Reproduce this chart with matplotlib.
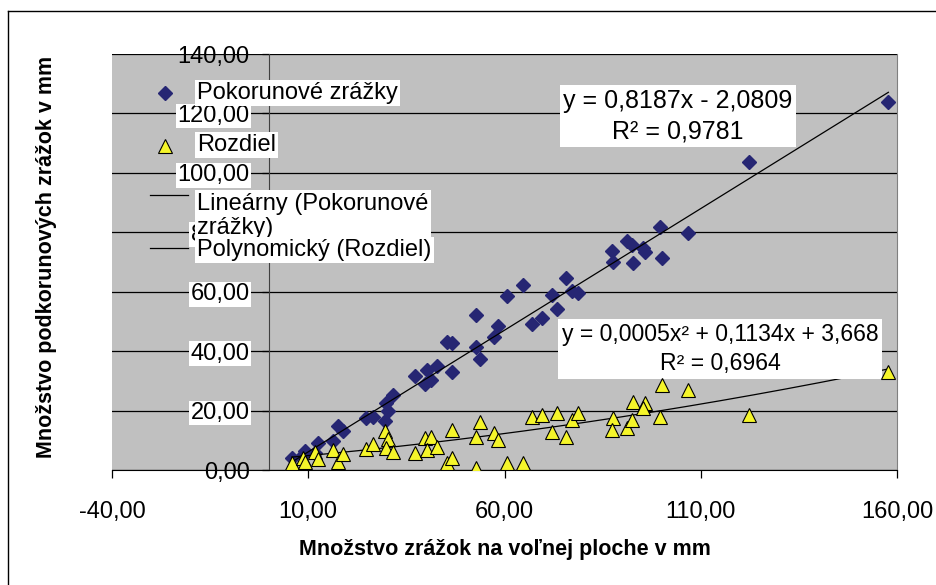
import matplotlib
matplotlib.use("Agg")
import matplotlib.pyplot as plt
import numpy as np
from matplotlib.lines import Line2D
from matplotlib.ticker import FuncFormatter

plt.rcParams['font.family'] = ['Liberation Sans', 'DejaVu Sans']

# zrážky na voľnej ploche (x), pokorunové zrážky a rozdiel (mm)
volna_plocha = [5.8, 8.7, 9.2, 11.7, 12.6, 16.2, 17.7, 18.8, 24.7, 26.6,
                29.6, 30.4, 29.8, 31.5, 37.2, 39.7, 41.4, 40.2, 42.7, 46.5,
                45.3, 46.5, 52.7, 52.7, 53.8, 57.2, 58.4, 60.6, 64.6, 67.1,
                69.5, 73.3, 72.0, 75.7, 77.1, 78.8, 87.7, 87.3, 91.1, 92.4,
                92.8, 95.8, 95.4, 99.6, 100.0, 106.8, 122.3, 157.8]
pokorunove = [3.9, 5.0, 6.4, 5.6, 9.0, 9.6, 14.8, 13.2, 17.6, 17.7,
              16.4, 20.0, 22.4, 25.1, 31.5, 29.0, 30.2, 33.6, 34.9, 32.9,
              43.1, 42.6, 52.1, 41.5, 37.4, 44.9, 48.3, 58.4, 62.4, 49.2,
              51.0, 54.2, 59.0, 64.5, 60.3, 59.7, 70.0, 73.6, 77.0, 75.6,
              69.5, 73.2, 74.6, 81.8, 71.4, 79.8, 103.8, 124.0]
rozdiel = [2.2, 3.9, 2.8, 6.2, 3.6, 6.7, 2.8, 5.5, 7.0, 8.9,
           13.2, 10.4, 7.3, 6.0, 5.6, 10.7, 11.2, 6.7, 7.8, 13.5,
           2.2, 3.9, 0.6, 11.2, 16.3, 12.3, 10.1, 2.2, 2.2, 17.9,
           18.5, 19.1, 12.9, 11.2, 16.8, 19.1, 17.4, 13.5, 14.0, 16.8,
           23.0, 22.4, 20.8, 17.9, 28.6, 26.9, 18.5, 33.1]

# trendy z grafu
lin_coef = [0.8187, -2.0809]
lin_r2 = 0.9781
poly_coef = [0.0005, 0.1134, 3.668]
poly_r2 = 0.6964

x_ticks = [-40, 10, 60, 110, 160]
y_ticks = [0, 20, 40, 60, 80, 100, 120, 140]

W, H = 936, 585
fig = plt.figure(figsize=(W / 100, H / 100), dpi=100)
ax = fig.add_axes([112 / W, 1 - 470 / H, 785 / W, 416 / H])
ax.set_facecolor('#C0C0C0')
ax.set_xlim(-40, 160)
ax.set_ylim(0, 140)

fmt = FuncFormatter(lambda v, p: f"{v:.2f}".replace('.', ','))
ax.set_xticks(x_ticks)
ax.set_yticks(y_ticks)
ax.xaxis.set_major_formatter(fmt)
ax.yaxis.set_major_formatter(fmt)
ax.yaxis.grid(True, color='black', lw=0.9)

ax.spines['left'].set_position(('data', 0))
ax.spines['left'].set_color('#404040')
ax.spines['top'].set_visible(False)
ax.spines['right'].set_color('#808080')
ax.spines['bottom'].set_color('black')
ax.tick_params(axis='x', direction='out', length=6, width=0.9, labelsize=17, pad=16)
ax.tick_params(axis='y', direction='out', length=5, width=0.9, labelsize=17, pad=9)
for lab, v in zip(ax.get_yticklabels(), y_ticks):
    if v not in (0, 140):
        lab.set_bbox(dict(facecolor='white', edgecolor='none', pad=1))

# body
ax.plot(volna_plocha, pokorunove, ls='none', marker='D', ms=7,
        color='#262673', mec='#262673', zorder=3)
ax.plot(volna_plocha, rozdiel, ls='none', marker='^', ms=10.5,
        color='#F5F52A', mec='black', mew=0.8, zorder=7)

# trendy
xs = np.linspace(min(volna_plocha), max(volna_plocha), 200)
ax.plot(xs, np.polyval(lin_coef, xs), color='black', lw=0.9, zorder=4)
ax.plot(xs, np.polyval(poly_coef, xs), color='black', lw=0.9, zorder=4)

box = dict(facecolor='white', edgecolor='none', boxstyle='square,pad=0.15')
ax.text(0.721, 0.851,
        f"y = {lin_coef[0]:.4f}x - {abs(lin_coef[1]):.4f}\nR² = {lin_r2:.4f}".replace('.', ','),
        transform=ax.transAxes, ha='center', va='center', multialignment='center',
        fontsize=18, linespacing=1.35, bbox=box, zorder=6)
ax.text(0.7745, 0.291,
        f"y = {poly_coef[0]:.4f}x² + {poly_coef[1]:.4f}x + {poly_coef[2]:.3f}\nR² = {poly_r2:.4f}".replace('.', ','),
        transform=ax.transAxes, ha='center', va='center', multialignment='center',
        fontsize=16.6, linespacing=1.35, bbox=box, zorder=6)

# legenda (v štýle Excelu)
lbox = dict(facecolor='white', edgecolor='none', boxstyle='square,pad=0.1')
ax.plot([0.0675], [0.906], transform=ax.transAxes, marker='D', ms=7,
        color='#262673', clip_on=False, zorder=7)
ax.text(0.1083, 0.906, "Pokorunové zrážky", transform=ax.transAxes,
        ha='left', va='center', fontsize=17, bbox=lbox, zorder=7)
ax.plot([0.0675], [0.779], transform=ax.transAxes, marker='^', ms=10.5,
        color='#F5F52A', mec='black', mew=0.8, clip_on=False, zorder=7)
ax.text(0.1083, 0.781, "Rozdiel", transform=ax.transAxes,
        ha='left', va='center', fontsize=17, bbox=lbox, zorder=7)
ax.plot([0.0484, 0.0968], [0.661, 0.661], transform=ax.transAxes,
        color='black', lw=0.9, zorder=7)
ax.text(0.1083, 0.667, "Lineárny (Pokorunové\nzrážky)", transform=ax.transAxes,
        ha='left', va='top', fontsize=17, linespacing=1.12, bbox=lbox, zorder=7)
ax.plot([0.0484, 0.0968], [0.534, 0.534], transform=ax.transAxes,
        color='black', lw=0.9, zorder=7)
ax.text(0.1083, 0.529, "Polynomický (Rozdiel)", transform=ax.transAxes,
        ha='left', va='center', fontsize=17, bbox=lbox, zorder=8)

ax.set_xlabel("Množstvo zrážok na voľnej ploche v mm", fontsize=15.5,
              fontweight='bold', va='center')
ax.xaxis.set_label_coords((505 - 112) / 785, (470 - 550) / 416)
ax.set_ylabel("Množstvo podkorunových zrážok v mm", fontsize=15.5,
              fontweight='bold', va='center')
ax.yaxis.set_label_coords((47 - 112) / 785, (470 - 257) / 416)

# rám grafu
fig.add_artist(Line2D([8 / W, 8 / W], [1 - 11 / H, 0], color='black', lw=1))
fig.add_artist(Line2D([8 / W, 1], [1 - 11 / H, 1 - 11 / H], color='black', lw=1))

fig.savefig("out.png", dpi=100)
